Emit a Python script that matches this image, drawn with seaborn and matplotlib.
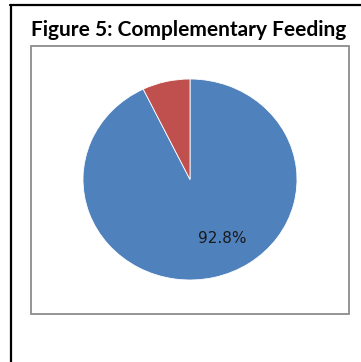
import matplotlib
matplotlib.use("Agg")
import matplotlib.pyplot as plt
import seaborn as sns
from matplotlib.patches import Rectangle
from matplotlib.lines import Line2D

categories = ["Yes", "No"]
values = [92.8, 7.2]
value_labels = ["92.8%", ""]
title = "Figure 5: Complementary Feeding"
colors = ["#4F81BD", "#C0504D"]

sns.set_theme(style="white")
plt.rcParams['font.family'] = ['DejaVu Sans']

W, H = 361, 362
fig = plt.figure(figsize=(W / 100, H / 100), dpi=100)
fig.patch.set_facecolor("white")

def fx(x):
    return x / W

def fy(y):
    return 1 - y / H

# outer black frame (partially cropped)
fig.add_artist(Line2D([fx(10.5), fx(10.5)], [fy(5), fy(362)], color="black", lw=1.6, transform=fig.transFigure))
fig.add_artist(Line2D([fx(10), fx(361)], [fy(5), fy(5)], color="black", lw=1.6, transform=fig.transFigure))

# inner chart frame
fig.add_artist(Rectangle((fx(31), fy(314)), fx(349) - fx(31), fy(46) - fy(314),
                         transform=fig.transFigure, fill=False, edgecolor="#8c8c8c", lw=1.3))

fig.text(fx(31), fy(36), title, fontsize=15, fontweight="bold", family=["Lato", "DejaVu Sans"],
         ha="left", va="baseline", color="black")

ax = fig.add_axes([fx(83), fy(280), fx(297) - fx(83), fy(79) - fy(280)])
ax.pie(values, colors=colors, startangle=90, counterclock=False,
       wedgeprops=dict(edgecolor="white", linewidth=0.6))
ax.set_aspect("auto")
ax.set_xlim(-1, 1)
ax.set_ylim(-1, 1)
ax.axis("off")

ax.text(0.305, -0.585, value_labels[0], fontsize=11, ha="center", va="center", color="#1a1a1a")

fig.savefig("out.png", dpi=100)
